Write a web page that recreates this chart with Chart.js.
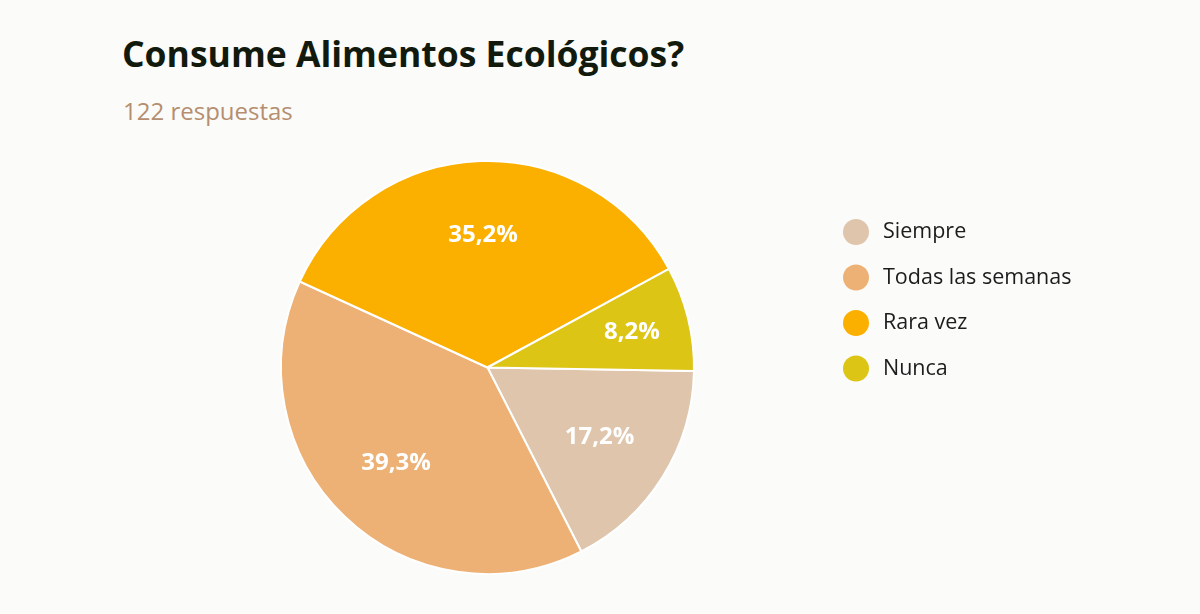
<!DOCTYPE html>
<html>
<head>
<meta charset="utf-8">
<script src="https://cdn.jsdelivr.net/npm/chart.js@4"></script>
<style>
  html, body { margin: 0; padding: 0; background: #fbfbf9; }
  #wrap { position: relative; width: 1200px; height: 614px; }
  #title { position: absolute; left: 122px; top: 30px; font: 700 35.5px "Open Sans", sans-serif; line-height: 46px; color: #111a0c; }
  #sub { position: absolute; left: 123px; top: 95px; font: 24px "Open Sans", sans-serif; line-height: 32px; color: #b58e6f; }
  canvas { position: absolute; left: 0; top: 0; }
</style>
</head>
<body>
<div id="wrap">
  <div id="title">Consume Alimentos Ecológicos?</div>
  <div id="sub">122 respuestas</div>
  <canvas id="pie" width="1200" height="614"></canvas>
</div>
<script>
const labels = ['Siempre', 'Todas las semanas', 'Rara vez', 'Nunca'];
const counts = [21, 48, 43, 10];
const pctLabels = ['17,2%', '39,3%', '35,2%', '8,2%'];
const colors = ['#dfc5ab', '#edb175', '#fbb000', '#dcc514'];

// percentages inside the slices
const sliceLabels = {
  id: 'sliceLabels',
  afterDatasetsDraw(chart) {
    const ctx = chart.ctx;
    const meta = chart.getDatasetMeta(0);
    ctx.save();
    ctx.fillStyle = '#ffffff';
    ctx.font = 'bold 24px "Open Sans", sans-serif';
    ctx.textAlign = 'center';
    ctx.textBaseline = 'middle';
    meta.data.forEach((arc, i) => {
      const mid = (arc.startAngle + arc.endAngle) / 2;
      const d = arc.outerRadius * (i === 3 ? 0.72 : 0.64);
      ctx.fillText(pctLabels[i], arc.x + Math.cos(mid) * d, arc.y + Math.sin(mid) * d);
    });
    ctx.restore();
  }
};

// legend on the right
const sideLegend = {
  id: 'sideLegend',
  afterDraw(chart) {
    const ctx = chart.ctx;
    ctx.save();
    ctx.font = '21.5px "Open Sans", sans-serif';
    ctx.textBaseline = 'middle';
    labels.forEach((lab, i) => {
      const y = 232 + i * 45.5;
      ctx.fillStyle = colors[i];
      ctx.beginPath();
      ctx.arc(856, y, 13, 0, Math.PI * 2);
      ctx.fill();
      ctx.fillStyle = '#1c1c1c';
      ctx.fillText(lab, 883, y);
    });
    ctx.restore();
  }
};

new Chart(document.getElementById('pie'), {
  type: 'pie',
  data: {
    labels: labels,
    datasets: [{
      data: counts,
      backgroundColor: colors,
      borderColor: '#ffffff',
      borderWidth: 2
    }]
  },
  options: {
    responsive: false,
    animation: false,
    rotation: 91,
    layout: { padding: { left: 280, top: 159, right: 505, bottom: 38 } },
    plugins: {
      legend: { display: false },
      tooltip: { enabled: false }
    }
  },
  plugins: [sliceLabels, sideLegend]
});
</script>
</body>
</html>
